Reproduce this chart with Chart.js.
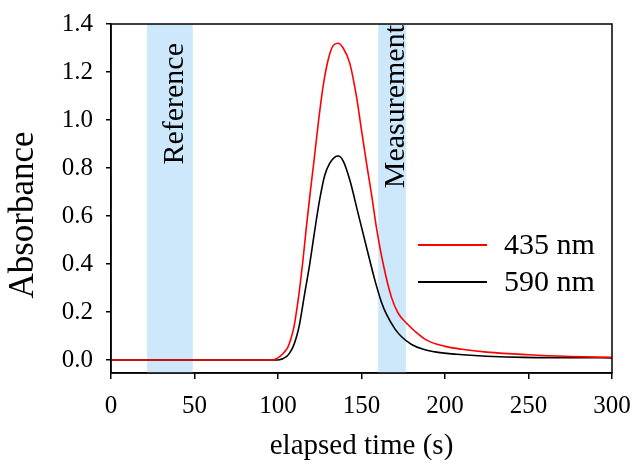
<!DOCTYPE html>
<html>
<head>
<meta charset="utf-8">
<script src="https://cdn.jsdelivr.net/npm/chart.js@4"></script>
<style>
  html, body { margin: 0; padding: 0; background: #fff; }
  #wrap { width: 634px; height: 473px; }
</style>
</head>
<body>
<div id="wrap"><canvas id="chart"></canvas></div>
<script>
// values
const time435 = [0, 60, 96, 101, 104, 106, 108, 109.6, 111, 112.6, 115, 117, 119.5, 121.6, 124, 127, 130,
  133, 136, 139, 143, 147, 150, 153, 156, 159, 163, 168, 172, 177, 182, 189, 200, 210, 225, 250, 275, 300];
const abs435 = [0, 0, 0, 0.014, 0.035, 0.055, 0.095, 0.139, 0.2, 0.278, 0.42, 0.555, 0.71, 0.833, 0.98,
  1.14, 1.25, 1.31, 1.32, 1.30, 1.236, 1.097, 0.958, 0.82, 0.69, 0.55, 0.40, 0.26, 0.195, 0.153, 0.12,
  0.083, 0.057, 0.045, 0.033, 0.022, 0.015, 0.011];

const time590 = [0, 60, 100, 105, 107, 109, 111, 112.6, 116, 119, 122, 125, 128, 131, 134, 136, 139, 143,
  148, 153, 158, 162, 165, 170, 174, 180, 187, 195, 207, 225, 247, 275, 300];
const abs590 = [0, 0, 0, 0.014, 0.03, 0.055, 0.095, 0.139, 0.278, 0.40, 0.54, 0.67, 0.77, 0.82, 0.845,
  0.85, 0.83, 0.75, 0.61, 0.47, 0.333, 0.24, 0.19, 0.13, 0.097, 0.065, 0.045, 0.033, 0.024, 0.016,
  0.011, 0.01, 0.009];

const seriesLabels = ["435 nm", "590 nm"];
const seriesColors = ["#ff0000", "#000000"];

// shaded windows (s)
const bandNames = ["Reference", "Measurement"];
const bandStart = [21.6, 160];
const bandEnd = [49, 176.6];

const yTicks = [0, 0.2, 0.4, 0.6, 0.8, 1.0, 1.2, 1.4];
const yTitle = "Absorbance";

const SERIF = "'Liberation Serif', 'DejaVu Serif', serif";

function toPoints(xs, ys) {
  return xs.map((x, i) => ({ x, y: ys[i] }));
}

function rotatedText(ctx, text, x, y) {
  ctx.save();
  ctx.translate(x, y);
  ctx.rotate(-Math.PI / 2);
  ctx.fillText(text, 0, 0);
  ctx.restore();
}

const bandsPlugin = {
  id: "bands",
  beforeDatasetsDraw(chart) {
    const { ctx, chartArea, scales } = chart;
    ctx.save();
    ctx.fillStyle = "#cde8fb";
    for (let i = 0; i < bandNames.length; i++) {
      const x0 = scales.x.getPixelForValue(bandStart[i]);
      const x1 = scales.x.getPixelForValue(bandEnd[i]);
      ctx.fillRect(x0, chartArea.top, x1 - x0, chartArea.bottom - chartArea.top);
    }
    ctx.beginPath();
    ctx.rect(chartArea.left, chartArea.top, chartArea.right - chartArea.left, chartArea.bottom - chartArea.top);
    ctx.clip();
    ctx.fillStyle = "#000";
    ctx.font = "30px " + SERIF;
    ctx.textBaseline = "alphabetic";
    ctx.textAlign = "right";
    rotatedText(ctx, bandNames[0], scales.x.getPixelForValue(bandEnd[0]) - 10, chartArea.top + 19);
    rotatedText(ctx, bandNames[1], scales.x.getPixelForValue(bandEnd[1]) - 2, chartArea.top + 1);
    ctx.restore();
  },
  afterDraw(chart) {
    const { ctx, chartArea } = chart;
    ctx.save();
    ctx.strokeStyle = "#000";
    ctx.lineWidth = 1.5;
    ctx.strokeRect(chartArea.left, chartArea.top, chartArea.right - chartArea.left, chartArea.bottom - chartArea.top);

    // y axis title
    ctx.fillStyle = "#000";
    ctx.font = "35px " + SERIF;
    ctx.textAlign = "center";
    ctx.textBaseline = "alphabetic";
    rotatedText(ctx, yTitle, 33, 215);

    // legend
    const rows = [245, 282];
    ctx.font = "30px " + SERIF;
    ctx.textBaseline = "middle";
    ctx.textAlign = "left";
    for (let i = 0; i < seriesLabels.length; i++) {
      ctx.strokeStyle = seriesColors[i];
      ctx.lineWidth = 2;
      ctx.beginPath();
      ctx.moveTo(418, rows[i]);
      ctx.lineTo(487, rows[i]);
      ctx.stroke();
      ctx.fillStyle = "#000";
      ctx.fillText(seriesLabels[i], 504, rows[i] + 1);
    }
    ctx.restore();
  },
};

new Chart(document.getElementById("chart"), {
  type: "line",
  data: {
    datasets: [
      {
        label: seriesLabels[0],
        data: toPoints(time435, abs435),
        borderColor: seriesColors[0],
        borderWidth: 1.6,
        pointRadius: 0,
        cubicInterpolationMode: "monotone",
      },
      {
        label: seriesLabels[1],
        data: toPoints(time590, abs590),
        borderColor: seriesColors[1],
        borderWidth: 1.6,
        pointRadius: 0,
        cubicInterpolationMode: "monotone",
      },
    ],
  },
  options: {
    responsive: true,
    maintainAspectRatio: false,
    animation: false,
    events: [],
    layout: { padding: { top: 24, right: 22, left: 0, bottom: 0 } },
    plugins: {
      legend: { display: false },
      tooltip: { enabled: false },
    },
    scales: {
      x: {
        type: "linear",
        min: 0,
        max: 300,
        ticks: { stepSize: 50, color: "#000", font: { family: SERIF, size: 25 }, padding: 12 },
        grid: { drawOnChartArea: false, drawTicks: true, tickLength: 6, color: "#000", lineWidth: 1.5 },
        border: { display: true, color: "#000", width: 1.5 },
        title: {
          display: true,
          text: "elapsed time (s)",
          color: "#000",
          font: { family: SERIF, size: 29 },
          padding: { top: 0, bottom: 9 },
        },
        afterFit(scale) {
          scale.height = 100;
          scale.paddingLeft = 0;
          scale.paddingRight = 0;
        },
      },
      y: {
        type: "linear",
        min: -0.054,
        max: 1.4,
        afterBuildTicks(scale) { scale.ticks = yTicks.map((v) => ({ value: v })); },
        ticks: {
          color: "#000",
          font: { family: SERIF, size: 25 },
          padding: 13,
          callback: (v) => v.toFixed(1),
        },
        grid: { drawOnChartArea: false, drawTicks: true, tickLength: 5, color: "#000", lineWidth: 1.5 },
        border: { display: true, color: "#000", width: 1.5 },
        afterFit(scale) {
          scale.width = 111;
          scale.paddingTop = 0;
          scale.paddingBottom = 0;
        },
      },
    },
  },
  plugins: [bandsPlugin],
});
</script>
</body>
</html>
